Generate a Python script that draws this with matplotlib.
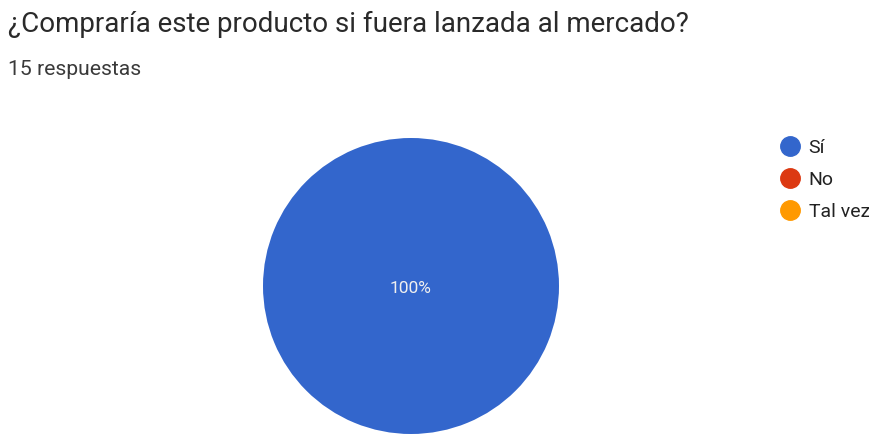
import matplotlib
matplotlib.use("Agg")
import matplotlib.pyplot as plt
from matplotlib.lines import Line2D

plt.rcParams['font.family'] = ['Roboto', 'DejaVu Sans']

title = "¿Compraría este producto si fuera lanzada al mercado?"
subtitle = "15 respuestas"
categories = ["Sí", "No", "Tal vez"]
values = [15, 0, 0]
colors = ["#3366CC", "#DC3912", "#FF9900"]

W, H = 870, 434
fig = plt.figure(figsize=(W / 100, H / 100), dpi=100)
fig.patch.set_facecolor("white")

fig.text(8 / W, 1 - 32 / H, title, fontsize=20, color="#2a2a2a", va="baseline", ha="left")
fig.text(8 / W, 1 - 75 / H, subtitle, fontsize=15.2, color="#3a3a3a", va="baseline", ha="left")

cx, cy, r = 411, 286, 148
ax = fig.add_axes([(cx - r) / W, (H - cy - r) / H, 2 * r / W, 2 * r / H])
wedges, texts, autotexts = ax.pie(
    values, colors=colors, startangle=90, counterclock=False, radius=1,
    autopct=lambda p: f"{p:.0f}%" if p > 0 else "", pctdistance=0.0,
    textprops=dict(color="#f0f0f0", fontsize=12.5),
    wedgeprops=dict(linewidth=0),
)
for t in autotexts:
    t.set_y(-0.015)
ax.set_xlim(-1, 1)
ax.set_ylim(-1, 1)
ax.set_aspect("equal")
ax.axis("off")

handles = [Line2D([], [], marker="o", linestyle="none", markersize=14,
                  markerfacecolor=c, markeredgecolor=c) for c in colors]
fig.legend(handles, categories, loc="upper left",
           bbox_to_anchor=(779 / W, 1 - 139 / H), frameon=False,
           fontsize=14, labelspacing=0.72, handletextpad=0.38,
           handlelength=1.15, borderaxespad=0, borderpad=0,
           labelcolor="#222222")

fig.savefig("out.png", dpi=100, facecolor="white")
